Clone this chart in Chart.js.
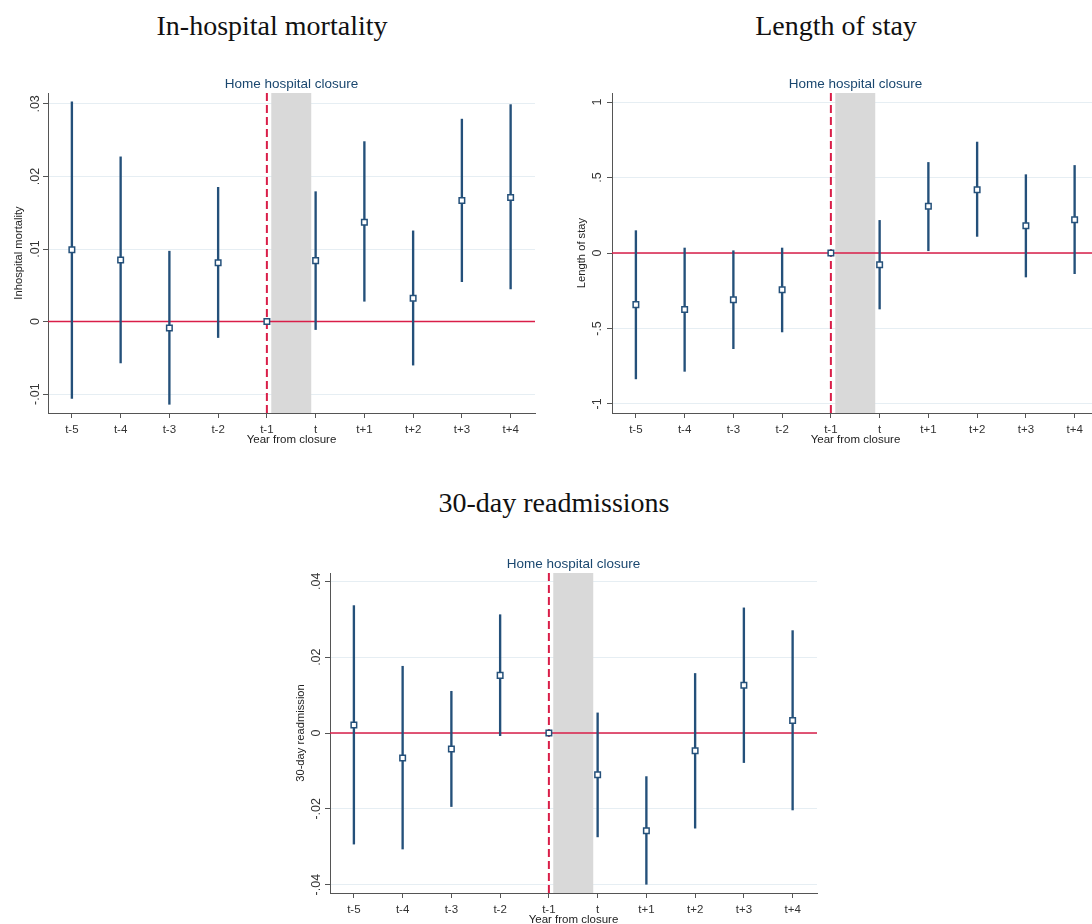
<!DOCTYPE html>
<html><head><meta charset="utf-8">
<script src="https://cdn.jsdelivr.net/npm/chart.js@4.4.1/dist/chart.umd.min.js"></script>
<style>
html,body{margin:0;padding:0;background:#fff;overflow:hidden;}
#wrap{position:relative;width:1092px;height:924px;overflow:hidden;background:#fff;}
canvas{position:absolute;}
.ttl{position:absolute;font-family:"Liberation Serif","Times New Roman",serif;font-size:28px;line-height:28px;color:#111;white-space:nowrap;transform:translateX(-50%);}
</style></head><body>
<div id="wrap">
<div class="ttl" style="left:272px;top:12px">In-hospital mortality</div>
<div class="ttl" style="left:836px;top:12px">Length of stay</div>
<div class="ttl" style="left:554px;top:489px">30-day readmissions</div>
<canvas id="c1" width="560" height="400" style="left:0px;top:60px;width:560px;height:400px"></canvas>
<canvas id="c2" width="560" height="400" style="left:564px;top:60px;width:560px;height:400px"></canvas>
<canvas id="c3" width="560" height="400" style="left:282px;top:540px;width:560px;height:400px"></canvas>
</div>
<script>
// ---- data ----
const categories = ['t-5','t-4','t-3','t-2','t-1','t','t+1','t+2','t+3','t+4'];
const closureIndex = 4; // t-1
const subtitleText = 'Home hospital closure';
const xTitleText = 'Year from closure';

const mortEst = [0.0099, 0.0085, -0.0009, 0.0081, 0, 0.0084, 0.0137, 0.0032, 0.0167, 0.0171];
const mortLo  = [-0.0106, -0.0057, -0.0114, -0.0022, null, -0.0011, 0.0028, -0.0060, 0.0055, 0.0045];
const mortHi  = [0.0303, 0.0227, 0.0097, 0.0185, null, 0.0179, 0.0248, 0.0125, 0.0279, 0.0299];
const mortTicks = [-0.01, 0, 0.01, 0.02, 0.03];
const mortTickLabels = ['-.01', '0', '.01', '.02', '.03'];

const losEst = [-0.342, -0.375, -0.309, -0.243, 0, -0.078, 0.309, 0.419, 0.181, 0.221];
const losLo  = [-0.834, -0.784, -0.634, -0.523, null, -0.371, 0.015, 0.110, -0.159, -0.137];
const losHi  = [0.148, 0.033, 0.015, 0.033, null, 0.216, 0.600, 0.735, 0.519, 0.580];
const losTicks = [-1, -0.5, 0, 0.5, 1];
const losTickLabels = ['-1', '-.5', '0', '.5', '1'];

const readEst = [0.0021, -0.0066, -0.0042, 0.0152, 0, -0.0110, -0.0258, -0.0047, 0.0126, 0.0033];
const readLo  = [-0.0293, -0.0306, -0.0194, -0.0007, null, -0.0274, -0.0399, -0.0251, -0.0078, -0.0203];
const readHi  = [0.0336, 0.0176, 0.0110, 0.0312, null, 0.0053, -0.0115, 0.0157, 0.0330, 0.0270];
const readTicks = [-0.04, -0.02, 0, 0.02, 0.04];
const readTickLabels = ['-.04', '-.02', '0', '.02', '.04'];

// ---- style ----
const NAVY = '#24507a';
const RED = '#d91e48';
const AXIS = '#555555';
const GRID = '#e6eef3';
const BAND = '#d9d9d9';
const SANS = '"Liberation Sans", Arial, sans-serif';

const closurePlugin = {
  id: 'closure',
  beforeDatasetsDraw(chart) {
    const {ctx, chartArea, scales: {x}} = chart;
    const x0 = x.getPixelForValue(closureIndex + 0.09);
    const x1 = x.getPixelForValue(closureIndex + 0.91);
    ctx.save();
    ctx.fillStyle = BAND;
    ctx.fillRect(x0, chartArea.top, x1 - x0, chartArea.bottom - chartArea.top);
    ctx.restore();
  },
  afterDraw(chart) {
    const {ctx, chartArea} = chart;
    ctx.save();
    ctx.font = '13.5px ' + SANS;
    ctx.fillStyle = '#1a476f';
    ctx.textAlign = 'center';
    ctx.textBaseline = 'alphabetic';
    ctx.fillText(subtitleText, (chartArea.left + chartArea.right) / 2, chartArea.top - 5);
    ctx.restore();
  }
};

function makeChart(id, est, lo, hi, yTicks, yLabels, ymin, ymax, yTitle, tickPad, titlePad) {
  const points = est.map((v, i) => ({x: i, y: v}));
  const bars = [];
  est.forEach((v, i) => { if (lo[i] !== null) bars.push({x: i, y: [lo[i], hi[i]]}); });
  return new Chart(document.getElementById(id), {
    type: 'scatter',
    data: {
      datasets: [
        {type: 'scatter', data: points, pointStyle: 'rect', pointRadius: 3.9, pointBorderWidth: 1.5,
         pointBorderColor: NAVY, pointBackgroundColor: '#ffffff', order: 1},
        {type: 'bar', data: bars, backgroundColor: NAVY, borderWidth: 0, barThickness: 1.7, grouped: false, order: 2},
        {type: 'line', data: [{x: closureIndex, y: ymin}, {x: closureIndex, y: ymax}], borderColor: RED,
         borderWidth: 2, borderDash: [8, 4], pointRadius: 0, fill: false, order: 3},
        {type: 'line', data: [{x: -0.6, y: 0}, {x: 9.6, y: 0}], borderColor: RED,
         borderWidth: 1.6, pointRadius: 0, fill: false, order: 4}
      ]
    },
    options: {
      responsive: false,
      animation: false,
      events: [],
      layout: {padding: {left: 0, right: 25, top: 33, bottom: 7}},
      plugins: {legend: {display: false}, tooltip: {enabled: false}},
      scales: {
        x: {
          type: 'linear', min: -0.49, max: 9.5, offset: false,
          afterBuildTicks: s => { s.ticks = categories.map((c, i) => ({value: i})); },
          afterFit: s => { s.height = 40; },
          ticks: {callback: v => categories[Math.round(v)], font: {family: SANS, size: 11.5}, color: '#333',
                  padding: 5, maxRotation: 0, minRotation: 0, autoSkip: false},
          grid: {offset: false, drawOnChartArea: false, drawTicks: true, tickLength: 5, tickColor: AXIS, tickWidth: 1},
          border: {display: true, color: AXIS, width: 1},
          title: {display: true, text: xTitleText, font: {family: SANS, size: 11.5}, color: '#222',
                  padding: {top: 0, bottom: 6}}
        },
        y: {
          type: 'linear', min: ymin, max: ymax, beginAtZero: false,
          afterBuildTicks: s => { s.ticks = yTicks.map(v => ({value: v})); },
          afterFit: s => { s.width = 48; },
          ticks: {callback: (v, i) => yLabels[i], minRotation: 90, maxRotation: 90, crossAlign: 'center',
                  padding: tickPad, font: {family: SANS, size: 12.5}, color: '#333', autoSkip: false},
          grid: {color: GRID, lineWidth: 1, drawTicks: true, tickLength: 5, tickColor: AXIS},
          border: {display: true, color: AXIS, width: 1},
          title: {display: true, text: yTitle, font: {family: SANS, size: 11.2}, color: '#222',
                  padding: {top: titlePad, bottom: 0}}
        }
      }
    },
    plugins: [closurePlugin]
  });
}

makeChart('c1', mortEst, mortLo, mortHi, mortTicks, mortTickLabels, -0.0126, 0.0315, 'Inhospital mortality', -3, 12);
makeChart('c2', losEst, losLo, losHi, losTicks, losTickLabels, -1.06, 1.06, 'Length of stay', 2, 11);
makeChart('c3', readEst, readLo, readHi, readTicks, readTickLabels, -0.0422, 0.0422, '30-day readmission', -2, 12);
</script>
</body></html>
